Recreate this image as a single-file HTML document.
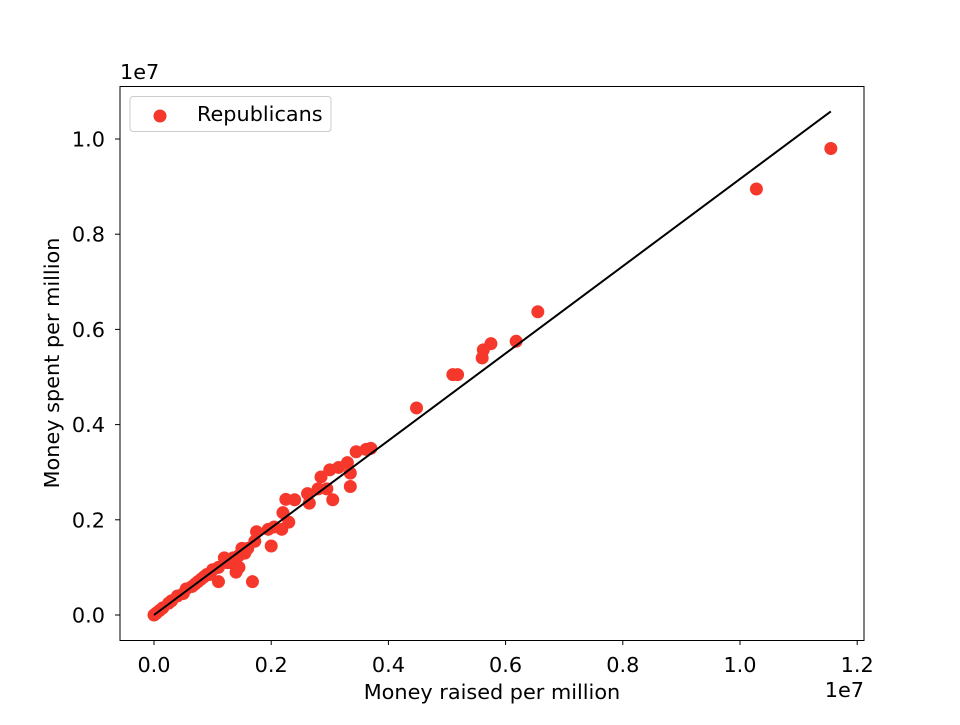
<!DOCTYPE html>
<html><head><meta charset="utf-8"><style>
body{margin:0;background:#fff}
svg text{font-family:"DejaVu Sans","Liberation Sans",sans-serif;font-size:20.8px;fill:#000}
</style></head><body>
<svg id="chart" width="960" height="720" viewBox="0 0 960 720" xmlns="http://www.w3.org/2000/svg">
<rect width="960" height="720" fill="#fff"/>
<g id="marks"></g>
<g id="axes"></g>
</svg>
<script>
const raised = [11.55,10.28,6.55,6.18,5.75,5.62,5.6,5.18,5.1,4.48,3.7,3.62,3.45,3.35,3.35,3.3,3.15,3.05,3.0,2.95,2.85,2.8,2.65,2.62,2.4,2.25,2.3,2.2,2.18,2.05,2.0,1.95,1.75,1.72,1.68,1.5,1.45,1.4,1.45,1.35,1.3,1.2,1.1,1.1,1.0,0.95,0.9,0.8,0.7,0.65,0.55,0.5,0.4,0.3,0.25,0.15,0.1,0.05,0.02,0.0,1.55,1.25,1.6,0.75,0.85];
const spent = [9.8,8.95,6.37,5.75,5.7,5.57,5.4,5.05,5.05,4.35,3.5,3.48,3.43,2.98,2.7,3.2,3.1,2.42,3.05,2.65,2.9,2.65,2.35,2.55,2.42,2.43,1.95,2.15,1.8,1.85,1.45,1.8,1.75,1.55,0.7,1.4,1.0,0.9,1.25,1.2,1.1,1.2,1.0,0.7,0.95,0.85,0.85,0.75,0.65,0.6,0.55,0.45,0.4,0.3,0.25,0.15,0.1,0.05,0.02,0.0,1.3,1.1,1.4,0.7,0.8];
const fitStart = [0.0, 0.0];
const fitEnd = [11.55, 10.58];
const xTicks = [0,2,4,6,8,10,12];
const xTickLabels = ["0.0","0.2","0.4","0.6","0.8","1.0","1.2"];
const yTicks = [0,2,4,6,8,10];
const yTickLabels = ["0.0","0.2","0.4","0.6","0.8","1.0"];

const X = v => 154 + v/2*117.2;
const Y = v => 615 - v/2*95.2;
const NS = "http://www.w3.org/2000/svg";
function mk(tag, attrs, parent){const e=document.createElementNS(NS,tag);for(const k in attrs)e.setAttribute(k,attrs[k]);parent.appendChild(e);return e;}
const marks = document.getElementById('marks');
const axes = document.getElementById('axes');

raised.forEach((r,i)=>{
  const c = mk('circle',{cx:X(r),cy:Y(spent[i]),r:6.5,fill:'#f5382b'},marks);
  
  
});
const fl = mk('line',{x1:X(fitStart[0]),y1:Y(fitStart[1]),x2:X(fitEnd[0]),y2:Y(fitEnd[1]),stroke:'#000','stroke-width':2},marks);



const frame = mk('rect',{x:120,y:86.5,width:744,height:554,fill:'none',stroke:'#000','stroke-width':1},axes);



xTicks.forEach((t,i)=>{
  const x=X(t);
  mk('line',{x1:x,x2:x,y1:640.5,y2:645,stroke:'#000'},axes);
  const tx=mk('text',{x:x,y:672,'text-anchor':'middle'},axes);tx.textContent=xTickLabels[i];
  
  
});
yTicks.forEach((t,i)=>{
  const y=Y(t);
  mk('line',{x1:115,x2:120,y1:y,y2:y,stroke:'#000'},axes);
  const tx=mk('text',{x:105,y:y+7.5,'text-anchor':'end'},axes);tx.textContent=yTickLabels[i];
  
  
});
function label(txt,attrs,name){const t=mk('text',attrs,axes);t.textContent=txt;return t;}
label('1e7',{x:120,y:79},'y-offset-label');
label('1e7',{x:864,y:697,'text-anchor':'end'},'x-offset-label');
label('Money raised per million',{x:492,y:699,'text-anchor':'middle'},'x-axis-title');
label('Money spent per million',{x:0,y:0,'text-anchor':'middle',transform:'translate(59,363) rotate(-90)'},'y-axis-title');

const lg = mk('g',{},axes);


mk('rect',{x:130,y:96.5,width:201,height:35,rx:3,fill:'#fff',stroke:'#ccc'},lg);
mk('circle',{cx:160,cy:116,r:6.5,fill:'#f5382b'},lg);
const lt=mk('text',{x:197,y:121},lg);lt.textContent='Republicans';


</script>
</body></html>
